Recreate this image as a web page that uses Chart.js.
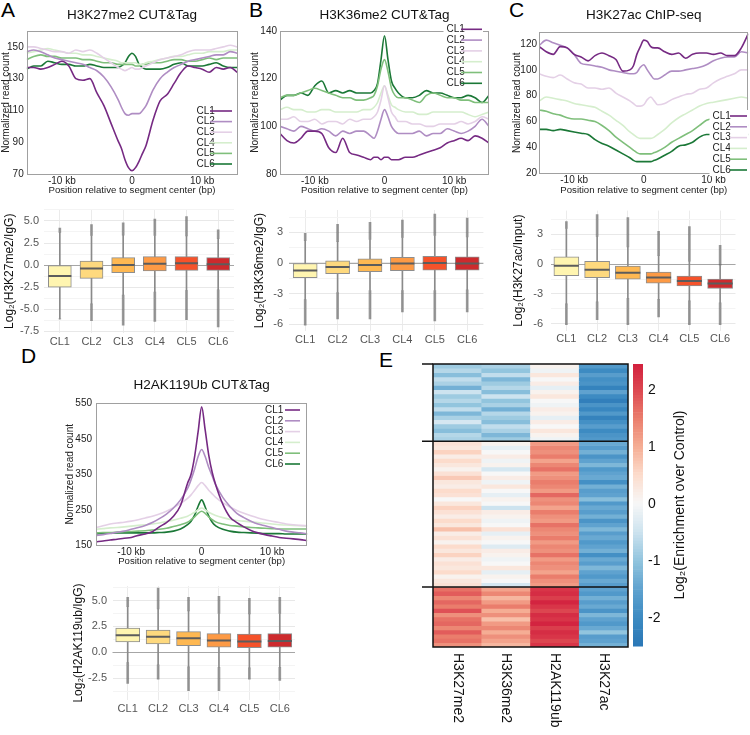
<!DOCTYPE html>
<html><head><meta charset="utf-8">
<script src="https://cdn.jsdelivr.net/npm/chart.js@4/dist/chart.umd.min.js"></script>
<style>
html,body{margin:0;padding:0;background:#fff;}
body{width:750px;height:735px;position:relative;overflow:hidden;font-family:'Liberation Sans',Arial,sans-serif;}
canvas{position:absolute;}
.plab{position:absolute;font-size:21px;line-height:1;color:#000;}
</style></head>
<body>
<div class="plab" style="left:1px;top:-1px">A</div>
<div class="plab" style="left:249px;top:-1px">B</div>
<div class="plab" style="left:509px;top:-1px">C</div>
<div class="plab" style="left:21px;top:345px">D</div>
<div class="plab" style="left:379px;top:349px">E</div>
<script>
// ---------------- DATA ----------------
const clusters = ['CL1','CL2','CL3','CL4','CL5','CL6'];
const positionsKb = [-15,-14,-13,-12,-11,-10,-9,-8,-7,-6,-5,-4,-3,-2,-1.5,-1,-0.5,0,0.5,1,1.5,2,3,4,5,6,7,8,9,10,11,12,13,14,15];
const xTickKb = [-10,0,10];

// A: H3K27me2 CUT&Tag profiles
const aCL1 = [137,137,136,137,139,141,138,130,129,130,121,113,102, 91,86,79,74,72,74,78,83,88, 104,116,120,127,134,138,137,136,134,137,136,137,134];
const aCL2 = [147,148,147,145,143,142,141,140,139,137,135,131,125, 117,112,108,107,108,108,108,110,113, 123,130,134,137,139,141,142,143,144,145,145,147,146];
const aCL3 = [150,150,149,148,147,147,146,148,147,148,146,143,140, 137,136,135,136,137,136,136,137,138, 140,142,143,144,145,147,148,148,148,149,150,151,150];
const aCL4 = [146,147,148,149,148,147,146,146,145,145,144,143,142, 141,140,140,140,140,140,139,139,140, 141,142,143,144,144,145,146,146,147,147,147,148,148];
const aCL5 = [142,144,145,144,144,143,143,143,142,142,141,140,140, 139,139,139,139,139,138,138,139,139, 140,140,141,142,142,141,141,142,143,142,143,143,143];
const aCL6 = [136,138,138,141,140,139,139,138,138,139,138,137,137, 137,138,140,144,146,144,139,137,136, 136,136,137,139,140,138,138,138,139,140,138,137,137];
const aYTicks = [70,90,110,130,150];

// B: H3K36me2 CUT&Tag profiles
const bCL1 = [97,94,93,95,98,98,97,91,89,95,89,88,87, 86,87,87,86,87,87,86,86,86, 87,87,88,89,90,91,93,94,95,94,96,95,93];
const bCL2 = [100,99,98,100,99,98,99,98,96,98,97,98,98, 96,95,98,103,107,104,100,98,97, 97,97,98,96,97,97,99,98,97,98,100,103,100];
const bCL3 = [103,103,104,102,102,103,101,102,102,101,103,102,103, 103,104,106,111,117,112,106,104,102, 102,101,101,100,100,101,101,101,102,101,102,104,103];
const bCL4 = [107,108,107,107,106,106,107,107,106,106,106,106,107, 107,108,110,114,117,113,109,108,107, 106,106,105,105,106,106,106,106,106,105,104,105,106];
const bCL5 = [112,113,113,114,115,116,115,114,113,112,112,111,111, 112,113,117,124,128,123,116,113,112, 112,111,110,113,114,113,112,112,111,111,110,110,110];
const bCL6 = [111,113,113,114,113,117,119,114,115,114,115,114,114, 114,115,118,128,138,128,119,116,114, 112,112,113,115,114,114,113,112,112,113,112,110,113];
const bYTicks = [80,100,120,140];

// C: H3K27ac ChIP-seq profiles
const cCL1 = [118,114,112,118,117,112,110,107,111,113,111,108,99, 100,103,112,118,123,122,118,117,117, 114,112,113,109,112,113,113,112,113,111,111,117,128];
const cCL2 = [119,123,121,119,117,112,105,104,103,102,100,99,98, 97,97,98,102,104,100,96,93,93, 96,99,99,100,101,102,104,107,109,110,110,114,113];
const cCL3 = [97,95,94,96,93,90,89,86,86,85,86,82,79, 76,74,72,72,73,77,79,76,73, 74,77,79,81,82,85,86,90,93,95,97,100,100];
const cCL4 = [76,79,78,77,76,74,73,72,71,68,65,61,57, 52,50,48,47,47,47,47,48,50, 54,59,63,66,69,72,74,75,76,77,78,79,78];
const cCL5 = [69,68,66,65,63,62,62,61,60,57,53,48,44, 40,38,36,35,35,35,35,36,37, 40,44,47,50,53,57,61,62,61,60,59,58,57];
const cCL6 = [54,54,53,54,53,52,51,50,46,43,41,38,35, 32,30,29,29,29,29,29,30,31, 34,37,41,42,44,48,50,50,50,50,50,50,50];
const cYTicks = [20,40,60,80,100,120];

// D: H2AK119Ub CUT&Tag profiles
const dCL1 = [160,162,165,167,170,172,178,182,188,202,214,232,262, 325,350,400,470,540,475,405,355,320, 266,230,214,202,192,185,180,176,172,170,168,166,163];
const dCL2 = [178,180,183,187,190,195,200,206,214,225,238,255,278, 310,335,365,400,420,400,370,345,320, 285,260,240,228,218,210,205,200,195,190,187,185,182];
const dCL3 = [200,205,210,213,215,218,222,227,232,238,246,256,268, 282,292,305,318,327,318,305,295,285, 270,258,248,240,233,227,222,218,214,210,208,206,205];
const dCL4 = [195,197,199,200,202,204,206,208,210,213,217,221,226, 232,237,243,250,255,250,243,238,234, 228,223,220,218,216,214,212,210,208,207,206,205,204];
const dCL5 = [185,186,186,187,188,189,190,191,193,195,198,203,208, 215,222,230,240,246,240,230,222,216, 210,206,204,202,200,199,198,197,196,196,196,196,196];
const dCL6 = [182,184,185,185,185,185,185,185,185,186,187,190,196, 208,218,235,260,278,258,233,215,205, 195,190,187,186,185,184,183,183,183,182,182,182,182];
const dYTicks = [150,250,350,450,550];

// Box plot statistics per cluster: [outlierLow, whiskerLow, Q1, median, Q3, whiskerHigh, outlierHigh]
const boxA = [[-6.1,-6.1,-2.5,-1.25,0.0,3.7,4.2],[-6.3,-4.4,-1.5,-0.4,0.45,3.35,4.6],[-6.8,-3.4,-0.85,0.0,0.85,3.4,4.8],[-6.4,-3.05,-0.65,0.15,0.95,3.35,5.2],[-6.2,-2.9,-0.6,0.2,0.95,3.3,5.5],[-7.0,-2.8,-0.6,0.1,0.85,3.0,4.0]];
const boxB = [[-6.1,-3.6,-1.45,-0.75,0.0,2.2,2.9],[-5.5,-2.9,-1.05,-0.4,0.2,2.1,3.8],[-5.5,-2.7,-0.85,-0.2,0.4,2.3,4.0],[-4.8,-2.7,-0.75,-0.05,0.55,2.5,4.2],[-5.7,-2.7,-0.7,0.0,0.65,2.7,4.8],[-4.8,-2.65,-0.7,-0.05,0.6,2.55,4.4]];
const boxC = [[-6.1,-4.0,-1.15,-0.15,0.75,3.6,4.3],[-5.6,-3.8,-1.35,-0.55,0.3,2.8,5.0],[-6.1,-3.45,-1.5,-0.85,-0.2,1.75,4.7],[-5.3,-3.55,-1.9,-1.35,-0.8,0.85,3.3],[-6.1,-3.7,-2.2,-1.7,-1.2,0.3,3.8],[-6.1,-3.9,-2.45,-1.95,-1.5,-0.1,1.9]];
const boxD = [[-3.0,-1.0,1.0,1.65,2.35,4.4,5.3],[-2.6,-1.2,0.8,1.5,2.15,4.2,6.2],[-3.7,-1.4,0.65,1.35,2.0,4.0,5.3],[-3.7,-1.45,0.5,1.15,1.8,3.75,5.4],[-2.6,-1.5,0.45,1.05,1.75,3.7,5.2],[-2.7,-1.45,0.5,1.1,1.8,3.75,5.3]];
const boxATicks = [-7.5,-5,-2.5,0,2.5,5];
const boxBTicks = [-6,-3,0,3];
const boxCTicks = [-6,-3,0,3];
const boxDTicks = [-2.5,0,2.5,5];

// E: heatmap (rows per cluster; columns = marks)
const marks = ['H3K27me2','H3K36me2','H2AK119ub','H3K27ac'];
const heatCluster1 = [
  [-0.9,-0.7,-1.1,-0.6,-0.8,-1.3,-0.5,-0.9,-0.7,-1.0,-0.6,-1.2,-0.8,-0.4,-0.9,-1.1,-0.7,-0.8],
  [-0.8,-1.0,-0.6,-1.2,-0.9,-0.7,-1.1,-0.5,-1.0,-0.8,-1.3,-0.7,-0.9,-1.1,-0.6,-0.8,-1.2,-0.9],
  [0.1,-0.1,0.3,0.0,0.2,-0.2,0.1,0.3,0.0,-0.1,0.2,0.1,-0.2,0.2,0.0,0.3,0.1,-0.1],
  [-1.7,-2.0,-1.6,-1.9,-1.8,-2.2,-1.5,-2.0,-2.3,-1.8,-2.1,-1.7,-2.2,-1.9,-1.6,-2.0,-1.8,-1.7]];
const heatCluster2 = [
  [0.4,0.3,0.6,0.2,0.5,0.3,0.1,0.4,0.7,0.3,0.2,0.5,0.4,0.0,0.3,0.6,0.4,0.2,0.5,0.3,0.8,0.2,0.4,0.1,0.5,0.3,0.6,0.2,0.4,0.3,0.5,0.1,0.3,0.4],
  [0.1,-0.2,0.0,0.2,-0.1,0.1,-0.4,0.0,0.2,-0.1,0.3,0.0,-0.2,0.1,0.0,-0.5,0.2,0.1,-0.1,0.0,0.4,-0.2,0.1,0.0,-0.3,0.2,0.1,-0.1,0.0,0.3,-0.2,0.1,0.0,-0.4],
  [1.2,1.4,1.3,1.5,1.1,1.4,1.6,1.2,1.3,1.5,1.4,1.2,1.7,1.3,1.4,1.1,1.5,1.3,1.2,1.6,1.4,1.3,1.5,1.2,1.4,1.3,1.6,1.2,1.4,1.3,1.1,1.5,1.3,1.2],
  [-1.4,-1.6,-1.3,-1.8,-1.5,-1.2,-1.7,-1.5,-1.4,-1.9,-1.3,-1.6,-1.5,-1.1,-1.7,-1.4,-1.6,-1.3,-1.8,-1.5,-1.2,-1.6,-1.4,-1.7,-1.5,-1.3,-1.9,-1.4,-1.6,-1.2,-1.5,-1.7,-1.4,-1.6]];
const heatCluster3 = [
  [1.6,1.8,1.4,1.7,1.5,1.9,1.3,1.6,1.7,1.4,1.8,1.5,1.6,1.3],
  [1.1,1.4,0.9,1.2,1.5,1.0,1.3,0.8,1.2,1.4,1.0,1.3,1.1,0.9],
  [2.2,2.3,2.1,2.4,2.2,2.0,2.3,2.2,2.4,2.1,2.3,2.2,2.0,2.2],
  [-1.5,-1.7,-1.3,-1.6,-1.4,-1.8,-1.2,-1.5,-1.7,-1.4,-1.0,-1.6,-1.5,-1.3]];
const colorbarTicks = [-2,-1,0,1,2];
const colorbarRange = [-2.5, 2.45];

// ---------------- STYLE ----------------
const FONT = "'Liberation Sans', Arial, sans-serif";
Chart.defaults.font.family = FONT;
Chart.defaults.color = '#222';
const lineColors = ['#762a83','#af8dc3','#e4d0e6','#d5eecd','#7fbf7b','#1b7837'];
const boxColors = ['#FFF5B0','#FED97E','#FEB852','#FD9A45','#F5522A','#CD2A2D'];
const cmapStops = [[-2.5,'#2a77b6'],[-2,'#3d8bc2'],[-1.5,'#5fa2cf'],[-1,'#92c5de'],[-0.5,'#cde3ef'],[0,'#f7f7f7'],[0.5,'#fcdccc'],[1,'#f5ad94'],[1.5,'#ea7d6c'],[2,'#dc4650'],[2.5,'#d11c3c']];

function hex2rgb(h){return [parseInt(h.slice(1,3),16),parseInt(h.slice(3,5),16),parseInt(h.slice(5,7),16)];}
function cmap(v){
  if (v <= cmapStops[0][0]) return cmapStops[0][1];
  for (let i=1;i<cmapStops.length;i++){
    if (v <= cmapStops[i][0]){
      const [v0,c0]=cmapStops[i-1],[v1,c1]=cmapStops[i];
      const t=(v-v0)/(v1-v0), a=hex2rgb(c0), b=hex2rgb(c1);
      return 'rgb('+a.map((x,k)=>Math.round(x+(b[k]-x)*t)).join(',')+')';
    }
  }
  return cmapStops[cmapStops.length-1][1];
}

function mkCanvas(id,L,T,W,H){
  const c=document.createElement('canvas');
  c.id=id; c.width=W; c.height=H;
  c.style.left=L+'px'; c.style.top=T+'px'; c.style.width=W+'px'; c.style.height=H+'px';
  document.body.appendChild(c);
  return c;
}

// ---------------- LINE CHARTS ----------------
function lineChart(cfg){
  const {id,L,T,W,H,area,yMin,yMax,yTicks,series,title,titleY,leg,yTickPad} = cfg;
  const cv = mkCanvas(id,L,T,W,H);
  const deco = {
    id:'deco',
    afterDatasetsDraw(ch){
      const ctx=ch.ctx, a=ch.chartArea;
      ctx.save();
      ctx.strokeStyle='#a0a0a0'; ctx.lineWidth=1;
      ctx.strokeRect(Math.round(a.left)+0.5, Math.round(a.top)+0.5, Math.round(a.right-a.left)-1, Math.round(a.bottom-a.top));
      // legend
      const lx=leg.x-L, ly=leg.y-T;
      ctx.fillStyle='#fff';
      ctx.fillRect(lx-3, ly-6, leg.tw+leg.ll+4, leg.dy*5+12);
      ctx.font='10px '+FONT; ctx.textBaseline='middle'; ctx.textAlign='left';
      ch.data.datasets.forEach((ds,i)=>{
        const y=ly+i*leg.dy;
        ctx.fillStyle='#222'; ctx.fillText(ds.label, lx, y);
        ctx.strokeStyle=ds.borderColor; ctx.lineWidth=1.6;
        ctx.beginPath(); ctx.moveTo(lx+leg.tw, y); ctx.lineTo(lx+leg.tw+leg.ll, y); ctx.stroke();
      });
      // title
      ctx.fillStyle='#111'; ctx.font='13.5px '+FONT; ctx.textAlign='center';
      ctx.fillText(title, (a.left+a.right)/2, titleY-T);
      ctx.restore();
    }
  };
  new Chart(cv,{
    type:'line',
    data:{datasets: series.map((s,i)=>({label:clusters[i], data: positionsKb.map((p,j)=>({x:p,y:s[j]})),
      borderColor:lineColors[i], borderWidth:1.6, pointRadius:0, fill:false, tension:0.35, cubicInterpolationMode:'monotone'}))},
    options:{
      responsive:false, animation:false, devicePixelRatio:1,
      layout:{padding:{left:0, top:area[1]-T, right:L+W-area[2], bottom:0}},
      plugins:{legend:{display:false}, tooltip:{enabled:false}},
      scales:{
        x:{type:'linear', min:-15, max:15,
          afterBuildTicks:s=>{s.ticks=xTickKb.map(v=>({value:v}));},
          afterFit:s=>{s.height=T+H-area[3];},
          grid:{display:false, drawTicks:false}, border:{display:false},
          ticks:{autoSkip:false, maxRotation:0, padding:1, font:{size:10}, color:'#222', callback:v=> v===0?'0':v+' kb'},
          title:{display:true, text:'Position relative to segment center (bp)', font:{size:9.6}, padding:{top:0,bottom:2}, color:'#222'}},
        y:{min:yMin, max:yMax,
          afterBuildTicks:s=>{s.ticks=yTicks.map(v=>({value:v}));},
          afterFit:s=>{s.width=area[0]-L;},
          grid:{display:false, drawTicks:false}, border:{display:false},
          ticks:{autoSkip:false, padding:yTickPad, font:{size:10}, color:'#222'},
          title:{display:true, text:'Normalized read count', font:{size:10}, padding:{top:0,bottom:0}, color:'#222'}}
      }
    },
    plugins:[deco]
  });
}

lineChart({id:'lA', L:0, T:0, W:250, H:198, area:[26.7,31,237.3,174], yMin:70, yMax:160, yTicks:aYTicks,
  series:[aCL1,aCL2,aCL3,aCL4,aCL5,aCL6], title:'H3K27me2 CUT&Tag', titleY:15, yTickPad:3,
  leg:{x:196.5, y:111, dy:10.6, tw:13.5, ll:22}});
lineChart({id:'lB', L:249, T:0, W:251, H:198, area:[280,31,489,174], yMin:80, yMax:140, yTicks:bYTicks,
  series:[bCL1,bCL2,bCL3,bCL4,bCL5,bCL6], title:'H3K36me2 CUT&Tag', titleY:15, yTickPad:3,
  leg:{x:446.5, y:29.3, dy:10.8, tw:14.5, ll:21}});
lineChart({id:'lC', L:511, T:0, W:239, H:198, area:[539.3,32,748.3,173.3], yMin:20, yMax:129.3, yTicks:cYTicks,
  series:[cCL1,cCL2,cCL3,cCL4,cCL5,cCL6], title:'H3K27ac ChIP-seq', titleY:15, yTickPad:2.3,
  leg:{x:712.5, y:116, dy:10.8, tw:17.5, ll:17}});
lineChart({id:'lD', L:64, T:372, W:246, H:197, area:[96,403.3,307.3,545.3], yMin:150, yMax:550, yTicks:dYTicks,
  series:[dCL1,dCL2,dCL3,dCL4,dCL5,dCL6], title:'H2AK119Ub CUT&Tag', titleY:385, yTickPad:4,
  leg:{x:265, y:410, dy:10.8, tw:20, ll:15}});

// ---------------- BOX PLOTS ----------------
function boxChart(cfg){
  const {id,L,T,W,H,area,yMin,yMax,majors,minors,stats,ytitle,dec,tickPad,boxW} = cfg;
  const cv = mkCanvas(id,L,T,W,H);
  const zero = {id:'zero', beforeDatasetsDraw(ch){
    const y=Math.round(ch.scales.y.getPixelForValue(0))+0.5, a=ch.chartArea, c=ch.ctx;
    c.save(); c.strokeStyle='#a6a6a6'; c.lineWidth=1; c.beginPath(); c.moveTo(a.left,y); c.lineTo(a.right,y); c.stroke(); c.restore();
  }};
  const allTicks = majors.map(v=>({value:v,minor:false})).concat(minors.map(v=>({value:v,minor:true}))).sort((p,q)=>p.value-q.value);
  new Chart(cv,{
    type:'bar',
    data:{labels:clusters, datasets:[
      {type:'line', data:stats.map(s=>s[3]), showLine:false, pointStyle:'line', pointRadius:boxW/2, pointHoverRadius:boxW/2,
        pointBorderWidth:2, pointBorderColor:'#5c5c5c', borderColor:'#5c5c5c', order:0},
      {data:stats.map(s=>[s[2],s[4]]), backgroundColor:boxColors, borderColor:'#8e8e8e', borderWidth:1, borderSkipped:false,
        barThickness:boxW, grouped:false, order:1},
      {data:stats.map(s=>[s[1],s[5]]), backgroundColor:'#8a8a8a', barThickness:1, grouped:false, order:2},
      {data:stats.map(s=>[s[0],s[1]]), backgroundColor:'rgba(70,70,70,0.55)', barThickness:2, grouped:false, order:3},
      {data:stats.map(s=>[s[5],s[6]]), backgroundColor:'rgba(70,70,70,0.55)', barThickness:2, grouped:false, order:3}
    ]},
    options:{
      responsive:false, animation:false, devicePixelRatio:1,
      layout:{padding:{left:0, top:area[1]-T, right:L+W-area[2], bottom:0}},
      plugins:{legend:{display:false}, tooltip:{enabled:false}},
      scales:{
        x:{type:'category', offset:true, grid:{color:'#ebebeb', offset:false, drawTicks:false}, border:{display:false},
          afterFit:s=>{s.height=T+H-area[3];},
          ticks:{font:{size:11}, color:'#555', padding:2, autoSkip:false, maxRotation:0}},
        y:{min:yMin, max:yMax,
          afterBuildTicks:s=>{s.ticks=allTicks.map(t=>({value:t.value, minor:t.minor}));},
          afterFit:s=>{s.width=area[0]-L;},
          grid:{color:c=> (c.tick && c.tick.minor) ? '#f4f4f4' : '#e8e8e8', drawTicks:false}, border:{display:false},
          ticks:{autoSkip:false, padding:tickPad, font:{size:11}, color:'#555',
            callback:(v,i,t)=> t[i].minor ? '' : v.toFixed(dec)},
          title:{display:true, text:ytitle, font:{size:12}, padding:{top:2,bottom:0}, color:'#111'}}
      }
    },
    plugins:[zero]
  });
}

boxChart({id:'bA', L:0, T:196, W:250, H:154, area:[44,203,234,333], yMin:-7.7, yMax:6.3,
  majors:boxATicks, minors:[-6.25,-3.75,-1.25,1.25,3.75,6.25], stats:boxA, ytitle:'Log\u2082(H3K27me2/IgG)', dec:1, tickPad:5, boxW:23});
boxChart({id:'bB', L:250, T:196, W:250, H:154, area:[289,207,483.4,331.2], yMin:-6.7, yMax:5.2,
  majors:boxBTicks, minors:[-4.5,-1.5,1.5,4.5], stats:boxB, ytitle:'Log\u2082(H3K36me2/IgG)', dec:0, tickPad:6, boxW:24});
boxChart({id:'bC', L:509, T:196, W:241, H:154, area:[551,207,744,330.7], yMin:-6.7, yMax:5.4,
  majors:boxCTicks, minors:[-4.5,-1.5,1.5,4.5], stats:boxC, ytitle:'Log\u2082(H3K27ac/Input)', dec:0, tickPad:8, boxW:25});
boxChart({id:'bD', L:69, T:572, W:240, H:145, area:[112.5,579.7,298.5,700], yMin:-4.6, yMax:6.4,
  majors:boxDTicks, minors:[-3.75,-1.25,1.25,3.75,6.25], stats:boxD, ytitle:'Log\u2082(H2AK119ub/IgG)', dec:1, tickPad:5.5, boxW:24});

// ---------------- HEATMAP ----------------
(function(){
  const clustersHM = [heatCluster1, heatCluster2, heatCluster3];
  const rows = [];
  const bounds = [];
  clustersHM.forEach(cl=>{
    for (let r=0;r<cl[0].length;r++) rows.push(marks.map((m,k)=>cl[k][r]));
    bounds.push(rows.length);
  });
  const nRows = rows.length;
  const L=410,T=350,W=220,H=385, area=[433,364,628,647];
  const cv = mkCanvas('heat',L,T,W,H);
  const deco = {id:'hdeco', afterDraw(ch){
    const c=ch.ctx, a=ch.chartArea, ys=ch.scales.y, xs=ch.scales.x;
    c.save();
    c.strokeStyle='#111'; c.lineWidth=1.5;
    c.strokeRect(a.left, a.top, a.right-a.left, a.bottom-a.top);
    [0, bounds[0], bounds[1]].forEach(b=>{
      const y=ys.getPixelForValue(b);
      c.beginPath(); c.moveTo(a.left-11, y); c.lineTo(b===0?a.left:a.right, y); c.stroke();
    });
    c.fillStyle='#111'; c.font='14px '+FONT; c.textAlign='left'; c.textBaseline='middle';
    marks.forEach((m,i)=>{
      const x=xs.getPixelForValue(i);
      c.save(); c.translate(x, a.bottom+6); c.rotate(Math.PI/2); c.fillText(m,0,0); c.restore();
    });
    c.restore();
  }};
  new Chart(cv,{
    type:'bar',
    data:{labels:marks, datasets: rows.map(rv=>({data:marks.map(()=>1), backgroundColor:rv.map(cmap), borderWidth:0,
      barPercentage:1, categoryPercentage:1}))},
    options:{responsive:false, animation:false, devicePixelRatio:1,
      layout:{padding:{left:area[0]-L, top:area[1]-T, right:L+W-area[2], bottom:T+H-area[3]}},
      plugins:{legend:{display:false}, tooltip:{enabled:false}},
      scales:{x:{stacked:true, display:false}, y:{stacked:true, display:false, min:0, max:nRows, reverse:true}}},
    plugins:[deco]
  });

  // colour bar
  const cL=600, cT=350, cW=92, cH=310;
  const cb = mkCanvas('cbar',cL,cT,cW,cH);
  const step=0.05, slices=[];
  for (let v=colorbarRange[0]; v<colorbarRange[1]-1e-9; v+=step) slices.push([v, Math.min(v+step, colorbarRange[1])]);
  const cbTitle = {id:'cbt', afterDraw(ch){
    const c=ch.ctx;
    c.save(); c.fillStyle='#111'; c.font='14px '+FONT; c.textAlign='center'; c.textBaseline='middle';
    c.translate(680-cL, 505-cT); c.rotate(-Math.PI/2); c.fillText('Log\u2082(Enrichment over Control)',0,0); c.restore();
  }};
  new Chart(cb,{
    type:'bar',
    data:{labels:[''], datasets: slices.map(s=>({data:[s], backgroundColor:cmap((s[0]+s[1])/2), borderWidth:0, grouped:false,
      barPercentage:1, categoryPercentage:1}))},
    options:{responsive:false, animation:false, devicePixelRatio:1,
      layout:{padding:{left:33, top:364-cT, right:0, bottom:cT+cH-647}},
      plugins:{legend:{display:false}, tooltip:{enabled:false}},
      scales:{
        x:{display:false},
        y:{position:'right', min:colorbarRange[0], max:colorbarRange[1], z:1,
          afterBuildTicks:s=>{s.ticks=colorbarTicks.map(v=>({value:v}));},
          afterFit:s=>{s.width=49;},
          grid:{color:'#444', lineWidth:1, drawTicks:false}, border:{display:false},
          ticks:{autoSkip:false, padding:5, font:{size:14}, color:'#111'}}
      }},
    plugins:[cbTitle]
  });
})();
</script>
</body></html>
